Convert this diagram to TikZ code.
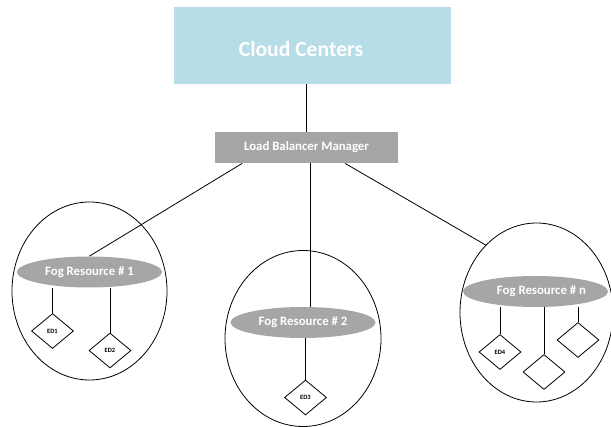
\documentclass[tikz,border=0pt]{standalone}
\usepackage{fontspec}
\setmainfont{Carlito}
\usetikzlibrary{shapes.geometric,calc}
\definecolor{cloudblue}{HTML}{B7DDE8}
\definecolor{foggray}{HTML}{A6A6A6}
\tikzset{
  cloud_box/.style={fill=cloudblue,minimum width=277pt,minimum height=77pt,inner sep=0pt},
  lbm_box/.style={fill=foggray,text=white,font=\bfseries\fontsize{12.8}{14}\selectfont,
      minimum width=183pt,minimum height=31pt,inner sep=0pt},
  fog_zone/.style={draw,ellipse,inner sep=0pt,minimum width=155pt,minimum height=178pt},
  fog_res/.style={ellipse,fill=foggray,text=white,font=\bfseries\fontsize{12.8}{14}\selectfont,
      inner sep=0pt,minimum width=145pt,minimum height=31pt},
  ed_node/.style={draw,diamond,fill=white,inner sep=0pt,minimum width=42pt,minimum height=35pt,
      font=\bfseries\fontsize{6.5}{7}\selectfont}
}

\begin{document}
\begin{tikzpicture}[x=1pt,y=-1pt,line width=0.8pt]
  \useasboundingbox (0,0) rectangle (611,427);
  \node[cloud_box] (cloud) at (312.5,45.5) {};
  \node[text=white,font=\bfseries\fontsize{21.6}{24}\selectfont] at (301,49) {Cloud Centers};
  \node[lbm_box] (lbm) at (306.5,147.5) {Load Balancer Manager};

  \node[fog_zone] (zone_1) at (89.5,291) {};
  \node[fog_zone,minimum width=156pt,minimum height=176pt] (zone_2) at (303,338.5) {};
  \node[fog_zone,minimum width=153pt,minimum height=179pt] (zone_n) at (536.5,312.5) {};

  \node[fog_res] (fog_1) at (89.5,272) {Fog Resource \# 1};
  \node[fog_res] (fog_2) at (303,322.5) {Fog Resource \# 2};
  \node[fog_res] (fog_n) at (535.5,291.5) {\hspace{12pt}Fog Resource \# n};

  \foreach \i/\pos/\txt in {1/{52.5,331}/ED1, 2/{110,350.5}/ED2, 3/{305.5,397.5}/ED3,
                            4/{500,352}/ED4, 5/{544,372}/{}, 6/{578,340}/{}}
    \node[ed_node] (ed_\i) at (\pos) {\txt};

  \draw (lbm.north) -- (lbm.north |- cloud.south);
  \coordinate (l_left) at ($(lbm.south west)!0.15!(lbm.south east)$);
  \coordinate (l_mid) at ($(lbm.south west)!0.52!(lbm.south east)$);
  \coordinate (l_right) at ($(lbm.south west)!0.71!(lbm.south east)$);
  \draw (l_left) -- (fog_1.north);
  \draw (l_mid) -- (l_mid |- fog_2.north);
  \draw (l_right) -- (zone_n.127);

  \foreach \f/\e in {fog_1/ed_1, fog_1/ed_2, fog_2/ed_3, fog_n/ed_4, fog_n/ed_5, fog_n/ed_6}
    \draw (\e.north) -- (\e.north |- \f.south);
\end{tikzpicture}
\end{document}
